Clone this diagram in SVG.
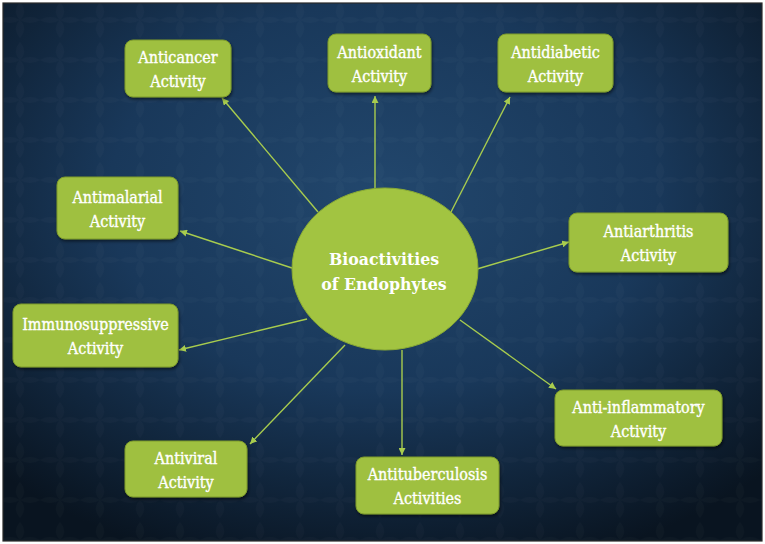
<svg xmlns="http://www.w3.org/2000/svg" width="765" height="544" viewBox="0 0 765 544">
<defs>
<radialGradient id="bg" cx="0.5" cy="0.36" r="0.72">
<stop offset="0" stop-color="#22476d"/>
<stop offset="0.5" stop-color="#19385a"/>
<stop offset="1" stop-color="#091420"/>
</radialGradient>
<pattern id="damask" width="40" height="40" patternUnits="userSpaceOnUse">
<path d="M20 2 Q28 12 20 20 Q12 12 20 2 Z M20 20 Q28 28 20 38 Q12 28 20 20 Z M0 20 Q10 14 20 20 Q10 26 0 20 Z M20 20 Q30 14 40 20 Q30 26 20 20 Z" fill="#ffffff" opacity="0.02"/>
</pattern>
<filter id="sh" x="-10%" y="-10%" width="120%" height="130%">
<feDropShadow dx="1" dy="2" stdDeviation="1.5" flood-color="#000" flood-opacity="0.5"/>
</filter>
<marker id="ah" viewBox="0 0 10 10" refX="10" refY="5" markerWidth="7" markerHeight="7" markerUnits="userSpaceOnUse" orient="auto">
<path d="M0 0 L10 5 L0 10 Z" fill="#a8cc4e"/>
</marker>
<style>
.box{fill:#9fc03f;stroke:#7d9a2c;stroke-width:1;filter:url(#sh);}
.t{font-family:"DejaVu Serif Condensed","DejaVu Serif",serif;font-size:16px;fill:#ffffff;stroke:#ffffff;stroke-width:0.35;text-anchor:middle;}
.c{font-family:"DejaVu Serif Condensed","DejaVu Serif",serif;font-size:17.5px;font-weight:bold;fill:#ffffff;text-anchor:middle;}
.ln{stroke:#a8cc4e;stroke-width:1.4;fill:none;marker-end:url(#ah);}
</style>
</defs>
<rect x="0" y="0" width="765" height="544" fill="#ffffff"/>
<rect x="3" y="3" width="759" height="538" fill="url(#bg)"/>
<rect x="3" y="3" width="759" height="538" fill="url(#damask)"/>
<rect x="3" y="3" width="759" height="538" fill="none" stroke="#2a2a2a" stroke-width="1.2"/>

<g id="connectors">
<line class="ln" x1="318" y1="212" x2="222" y2="98"/>
<line class="ln" x1="375" y1="188" x2="375" y2="96"/>
<line class="ln" x1="451" y1="212" x2="510" y2="97"/>
<line class="ln" x1="292" y1="268" x2="180" y2="231"/>
<line class="ln" x1="307" y1="319" x2="179" y2="350"/>
<line class="ln" x1="345" y1="345" x2="250" y2="444"/>
<line class="ln" x1="402" y1="350" x2="402" y2="455"/>
<line class="ln" x1="460" y1="320" x2="556" y2="389"/>
<line class="ln" x1="477" y1="269" x2="569" y2="242"/>
</g>

<g id="center">
<ellipse cx="385" cy="269" rx="93" ry="81" fill="#a2c441" stroke="#8aab34" stroke-width="1"/>
<text class="c" x="384" y="265">Bioactivities</text>
<text class="c" x="384" y="290">of Endophytes</text>
</g>

<g id="anticancer">
<rect class="box" x="125" y="40" width="106" height="57" rx="8"/>
<text class="t" x="178" y="63">Anticancer</text>
<text class="t" x="178" y="87">Activity</text>
</g>
<g id="antioxidant">
<rect class="box" x="328" y="34" width="103" height="58" rx="8"/>
<text class="t" x="379.5" y="57.5">Antioxidant</text>
<text class="t" x="379.5" y="81.5">Activity</text>
</g>
<g id="antidiabetic">
<rect class="box" x="498" y="34" width="115" height="58" rx="8"/>
<text class="t" x="555.5" y="57.5">Antidiabetic</text>
<text class="t" x="555.5" y="81.5">Activity</text>
</g>
<g id="antimalarial">
<rect class="box" x="57" y="177" width="121" height="62" rx="8"/>
<text class="t" x="117.5" y="202.5">Antimalarial</text>
<text class="t" x="117.5" y="226.5">Activity</text>
</g>
<g id="antiarthritis">
<rect class="box" x="569" y="213" width="159" height="59" rx="8"/>
<text class="t" x="648.5" y="237">Antiarthritis</text>
<text class="t" x="648.5" y="261">Activity</text>
</g>
<g id="immunosuppressive">
<rect class="box" x="13" y="304" width="165" height="63" rx="8"/>
<text class="t" x="95.5" y="330">Immunosuppressive</text>
<text class="t" x="95.5" y="354">Activity</text>
</g>
<g id="anti-inflammatory">
<rect class="box" x="555" y="390" width="167" height="56" rx="8"/>
<text class="t" x="638.5" y="412.5">Anti-inflammatory</text>
<text class="t" x="638.5" y="436.5">Activity</text>
</g>
<g id="antiviral">
<rect class="box" x="125" y="441" width="122" height="56" rx="8"/>
<text class="t" x="186" y="463.5">Antiviral</text>
<text class="t" x="186" y="487.5">Activity</text>
</g>
<g id="antituberculosis">
<rect class="box" x="356" y="457" width="143" height="57" rx="8"/>
<text class="t" x="427.5" y="480">Antituberculosis</text>
<text class="t" x="427.5" y="504">Activities</text>
</g>
</svg>
